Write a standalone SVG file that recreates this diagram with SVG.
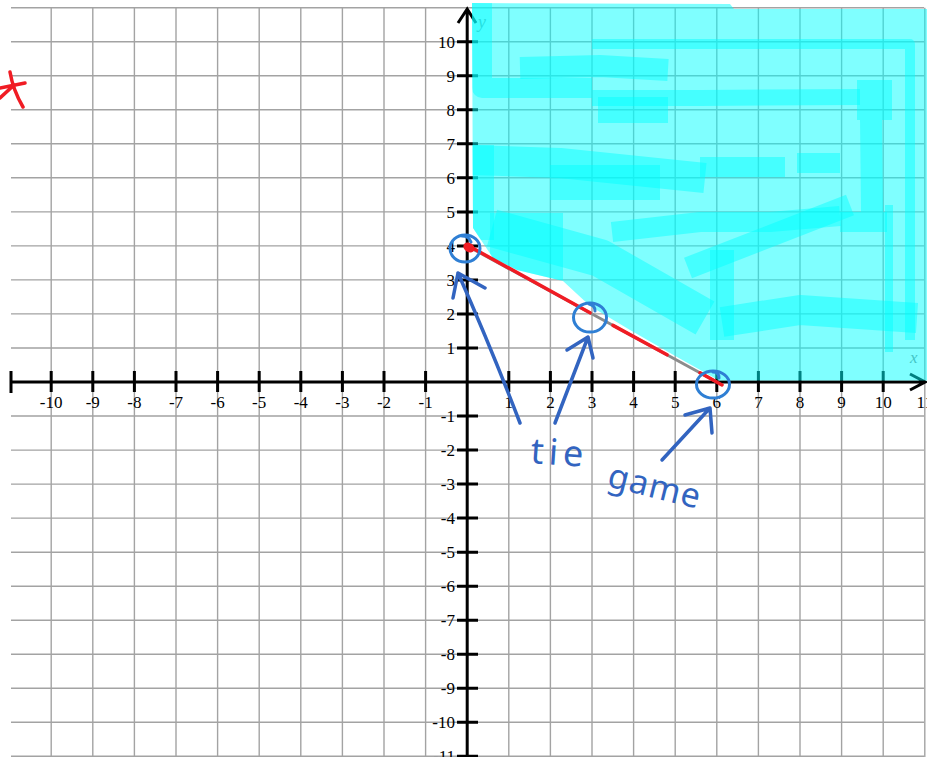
<svg xmlns="http://www.w3.org/2000/svg" width="927" height="757" viewBox="0 0 927 757">
<style>
.grid{stroke:#a3a3a3;stroke-width:1.4;fill:none}
.axis{stroke:#000;stroke-width:3;fill:none}
.lbl{font-family:"Liberation Serif","DejaVu Serif",serif;font-size:17px;fill:#000}
.xl{text-anchor:middle}
.yl{text-anchor:end}
.var{font-family:"Liberation Serif","DejaVu Serif",serif;font-style:italic;font-size:18px;fill:#8a8a8a}
.shade{fill:#00ffff;fill-opacity:0.5}
.hl{fill:none;stroke:#00ffff;stroke-opacity:0.45;stroke-linejoin:round}
.hlf{fill:#00ffff;fill-opacity:0.45}
.red{stroke:#f01c24;stroke-width:3.5;fill:none;stroke-linecap:round;stroke-linejoin:round}
.circ{stroke:#2f7fd4;stroke-width:3;fill:none;stroke-linecap:round}
.ink{stroke:#3264c0;stroke-width:3.5;fill:none;stroke-linecap:round;stroke-linejoin:round}
.hand{font-family:"Noto Sans","DejaVu Sans",sans-serif;fill:#3264c0}
</style>
<defs>
<path id="region" d="M472,3 L730,4 L734,9 L927,9 L927,380.5 L719,380.5 L677,357 L630,330 L590,306 L563,281 L517,270 L493,258 L473,228 Z"/>
<clipPath id="clipRegion"><use href="#region"/></clipPath>
</defs>
<rect width="927" height="757" fill="#fff"/>

<g id="grid" class="grid">
<path d="M11,7.7H924 M11,41.7H924 M11,75.7H924 M11,109.8H924 M11,143.8H924 M11,177.8H924 M11,211.9H924 M11,245.9H924 M11,279.9H924 M11,313.9H924 M11,348H924 M11,416H924 M11,450.1H924 M11,484.1H924 M11,518.1H924 M11,552.2H924 M11,586.2H924 M11,620.2H924 M11,654.2H924 M11,688.3H924 M11,722.3H924 M11,756.3H924"/>
<path d="M51.2,7.7V757 M92.8,7.7V757 M134.4,7.7V757 M176,7.7V757 M217.6,7.7V757 M259.2,7.7V757 M300.8,7.7V757 M342.4,7.7V757 M384,7.7V757 M425.6,7.7V757 M508.8,7.7V757 M550.4,7.7V757 M592,7.7V757 M633.6,7.7V757 M675.2,7.7V757 M716.8,7.7V757 M758.4,7.7V757 M800,7.7V757 M841.6,7.7V757 M883.2,7.7V757 M924.8,7.7V757"/>
</g>

<g id="axes" class="axis">
<path d="M10,382H925 M910,374 L925,382 L910,390"/>
<path d="M467.2,9V757 M458,23 L467.2,9 L476,23"/>
<path d="M11,371V393 M51.2,371V392 M92.8,371V392 M134.4,371V392 M176,371V392 M217.6,371V392 M259.2,371V392 M300.8,371V392 M342.4,371V392 M384,371V392 M425.6,371V392 M508.8,371V392 M550.4,371V392 M592,371V392 M633.6,371V392 M675.2,371V392 M716.8,371V392 M758.4,371V392 M800,371V392 M841.6,371V392 M883.2,371V392"/>
<path d="M457,41.7H478 M457,75.7H478 M457,109.8H478 M457,143.8H478 M457,177.8H478 M457,211.9H478 M457,245.9H478 M457,279.9H478 M457,313.9H478 M457,348H478 M457,416H478 M457,450.1H478 M457,484.1H478 M457,518.1H478 M457,552.2H478 M457,586.2H478 M457,620.2H478 M457,654.2H478 M457,688.3H478 M457,722.3H478 M457,756.3H478"/>
</g>

<g id="x-labels" class="lbl xl">
<text x="51.2" y="408">-10</text><text x="92.8" y="408">-9</text><text x="134.4" y="408">-8</text><text x="176" y="408">-7</text><text x="217.6" y="408">-6</text><text x="259.2" y="408">-5</text><text x="300.8" y="408">-4</text><text x="342.4" y="408">-3</text><text x="384" y="408">-2</text><text x="425.6" y="408">-1</text>
<text x="508.8" y="408">1</text><text x="550.4" y="408">2</text><text x="592" y="408">3</text><text x="633.6" y="408">4</text><text x="675.2" y="408">5</text><text x="716.8" y="408">6</text><text x="758.4" y="408">7</text><text x="800" y="408">8</text><text x="841.6" y="408">9</text><text x="883.2" y="408">10</text><text x="924.8" y="408">11</text>
</g>
<g id="y-labels" class="lbl yl">
<text x="455" y="47.7">10</text><text x="455" y="81.7">9</text><text x="455" y="115.8">8</text><text x="455" y="149.8">7</text><text x="455" y="183.8">6</text><text x="455" y="217.9">5</text><text x="455" y="251.9">4</text><text x="455" y="285.9">3</text><text x="455" y="319.9">2</text><text x="455" y="354">1</text>
<text x="455" y="422">-1</text><text x="455" y="456.1">-2</text><text x="455" y="490.1">-3</text><text x="455" y="524.1">-4</text><text x="455" y="558.2">-5</text><text x="455" y="592.2">-6</text><text x="455" y="626.2">-7</text><text x="455" y="660.2">-8</text><text x="455" y="694.3">-9</text><text x="455" y="728.3">-10</text><text x="455" y="762.3">-11</text>
</g>
<g id="axis-names" class="var">
<text x="478" y="28">y</text>
<text x="910" y="363" font-size="17">x</text>
</g>

<g id="shading">
<use href="#region" class="shade"/>
<g clip-path="url(#clipRegion)">
<path class="hl" stroke-width="20" d="M482,0 V88 H592"/>
<path class="hl" stroke-width="16" d="M592,98 H700 L860,97"/>
<path class="hl" stroke-width="22" d="M520,68 L600,66 L668,70"/>
<path class="hl" stroke-width="26" d="M598,110 H668"/>
<path class="hl" stroke-width="10" d="M592,44 H910 V340"/>
<rect class="hlf" x="857" y="80" width="35" height="40"/>
<path class="hl" stroke-width="22" d="M871,120 L872,212"/>
<path class="hl" stroke-width="8" d="M889,205 V352"/>
<path class="hl" stroke-width="24" d="M482,145 V240"/>
<path class="hl" stroke-width="30" d="M470,160 L560,163 L705,178"/>
<rect class="hlf" x="550" y="165" width="110" height="35"/>
<path class="hl" stroke-width="20" d="M700,167 H785 M797,163 H840"/>
<path class="hl" stroke-width="38" d="M492,228 L600,258 L705,318"/>
<rect class="hlf" x="490" y="213" width="73" height="67"/>
<path class="hl" stroke-width="22" d="M688,268 L850,205"/>
<path class="hl" stroke-width="20" d="M840,222 H887"/>
<path class="hl" stroke-width="24" d="M722,250 V340"/>
<path class="hl" stroke-width="30" d="M722,322 L800,310 L917,318"/>
<path class="hl" stroke-width="20" d="M612,232 L700,222 L770,222 L840,216"/>
</g>
</g>

<g id="boundary-line">
<path d="M467.2,245.9 L716.8,382" stroke="#8c8c8c" stroke-width="3" fill="none"/>
<path class="red" d="M467,245 L590,312.8 M613,325.4 L667,354.8 M700,372.8 L722,385"/>
<ellipse cx="469" cy="247.5" rx="6" ry="4.5" fill="#f01c24" transform="rotate(30 469 247.5)"/>
</g>

<g id="circles" class="circ">
<ellipse cx="465" cy="248.5" rx="15" ry="13.5"/>
<path d="M462,236 Q469,236 471,242"/>
<ellipse cx="590" cy="317.5" rx="16.5" ry="14.5"/>
<path d="M589,304 Q595,305 595,311"/>
<ellipse cx="713" cy="384.5" rx="16.5" ry="13.5"/>
<path d="M713,372 Q719,372 719,378"/>
</g>

<g id="arrows" class="ink">
<path d="M520,423 Q490,345 458,273 M453,298 L458,273 L485,288"/>
<path d="M555,423 L588,337 M567,350 L588,337 L593,358"/>
<path d="M662,460 L710,408 M685,415 L710,408 L712,433"/>
</g>

<g id="note" class="hand">
<text x="530" y="463" font-size="36" letter-spacing="5" transform="rotate(4 530 463)">tie</text>
<text x="606" y="486" font-size="34" letter-spacing="1" transform="rotate(14 606 486)">game</text>
</g>

<g id="star-mark">
<path class="red" d="M10,72 Q13,90 23,107 M0,88 L25,83 M0,98 L13,86"/>
</g>
</svg>
